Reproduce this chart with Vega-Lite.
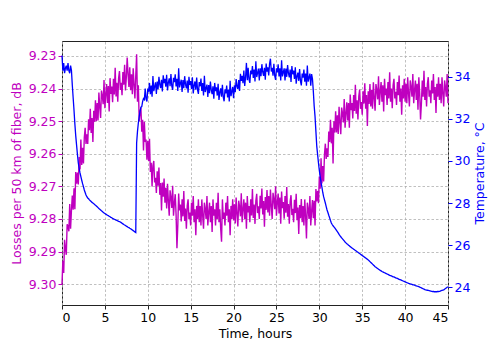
{
"$schema":"https://vega.github.io/schema/vega-lite/v6.json",
"width":386,"height":264,
"autosize":{"type":"none"},
"padding":{"left":62,"top":41,"right":50,"bottom":44},
"background":"white",
"config":{"font":"DejaVu Sans","view":{"stroke":"#222","strokeWidth":1},
"axis":{"labelFontSize":12.5,"titleFontSize":12.5,"titleFontWeight":"normal","tickSize":4,"labelPadding":2,"domain":false,"gridColor":"#b0b0b0","gridDash":[2.5,2],"gridWidth":0.8,"tickColor":"#222","labelColor":"#000","titleColor":"#000"}},
"data":{"values":[
{"t":0,"L":9.3,"T":35.0},{"t":0.1,"L":9.2928,"T":34.28},{"t":0.2,"L":9.2966,"T":34.64},{"t":0.3,"L":9.2864,"T":34.16},{"t":0.4,"L":9.2892,"T":34.4},{"t":0.5,"L":9.291,"T":34.52},{"t":0.6,"L":9.2816,"T":34.28},{"t":0.7,"L":9.2822,"T":34.64},{"t":0.8,"L":9.2838,"T":34.28},{"t":0.9,"L":9.2754,"T":34.16},
{"t":1.0,"L":9.283,"T":34.52},{"t":1.1,"L":9.2774,"T":34.3},{"t":1.2,"L":9.2728,"T":33.6},{"t":1.3,"L":9.2772,"T":33.0},{"t":1.4,"L":9.2706,"T":32.4},{"t":1.5,"L":9.277,"T":31.75},{"t":1.6,"L":9.2656,"T":31.2},{"t":1.7,"L":9.2692,"T":30.75},{"t":1.8,"L":9.2658,"T":30.3},{"t":1.9,"L":9.2694,"T":29.9},
{"t":2.0,"L":9.261,"T":29.65},{"t":2.1,"L":9.2648,"T":29.43},{"t":2.2,"L":9.2556,"T":29.25},{"t":2.3,"L":9.2634,"T":29.08},{"t":2.4,"L":9.2582,"T":28.92},{"t":2.5,"L":9.263,"T":28.78},{"t":2.6,"L":9.255,"T":28.62},{"t":2.7,"L":9.252,"T":28.5},{"t":2.8,"L":9.257,"T":28.38},{"t":2.9,"L":9.254,"T":28.3},
{"t":3.0,"L":9.257,"T":28.24},{"t":3.1,"L":9.2494,"T":28.2},{"t":3.2,"L":9.2528,"T":28.15},{"t":3.3,"L":9.2462,"T":28.11},{"t":3.4,"L":9.2536,"T":28.07},{"t":3.5,"L":9.249,"T":28.03},{"t":3.6,"L":9.2564,"T":28.0},{"t":3.7,"L":9.2468,"T":27.97},{"t":3.8,"L":9.2502,"T":27.93},{"t":3.9,"L":9.2436,"T":27.9},
{"t":4.0,"L":9.25,"T":27.86},{"t":4.1,"L":9.2444,"T":27.82},{"t":4.2,"L":9.2498,"T":27.78},{"t":4.3,"L":9.2412,"T":27.74},{"t":4.4,"L":9.2456,"T":27.7},{"t":4.5,"L":9.249,"T":27.67},{"t":4.6,"L":9.2406,"T":27.63},{"t":4.7,"L":9.2422,"T":27.6},{"t":4.8,"L":9.2448,"T":27.56},{"t":4.9,"L":9.2374,"T":27.53},
{"t":5.0,"L":9.246,"T":27.5},{"t":5.1,"L":9.2418,"T":27.47},{"t":5.2,"L":9.2386,"T":27.45},{"t":5.3,"L":9.2444,"T":27.42},{"t":5.4,"L":9.2392,"T":27.4},{"t":5.5,"L":9.247,"T":27.37},{"t":5.6,"L":9.2368,"T":27.35},{"t":5.7,"L":9.2416,"T":27.32},{"t":5.8,"L":9.2394,"T":27.3},{"t":5.9,"L":9.2442,"T":27.27},
{"t":6.0,"L":9.237,"T":27.25},{"t":6.1,"L":9.2418,"T":27.23},{"t":6.2,"L":9.2336,"T":27.21},{"t":6.3,"L":9.2424,"T":27.19},{"t":6.4,"L":9.2382,"T":27.17},{"t":6.5,"L":9.244,"T":27.15},{"t":6.6,"L":9.2368,"T":27.13},{"t":6.7,"L":9.2346,"T":27.12},{"t":6.8,"L":9.2404,"T":27.1},{"t":6.9,"L":9.2382,"T":27.07},
{"t":7.0,"L":9.242,"T":27.04},{"t":7.1,"L":9.2349,"T":27.01},{"t":7.2,"L":9.2388,"T":26.98},{"t":7.3,"L":9.2327,"T":26.96},{"t":7.4,"L":9.2406,"T":26.93},{"t":7.5,"L":9.2365,"T":26.9},{"t":7.6,"L":9.2305,"T":26.88},{"t":7.7,"L":9.2355,"T":26.85},{"t":7.8,"L":9.2395,"T":26.83},{"t":7.9,"L":9.2335,"T":26.8},
{"t":8.0,"L":9.2405,"T":26.78},{"t":8.1,"L":9.2356,"T":26.75},{"t":8.2,"L":9.2417,"T":26.72},{"t":8.3,"L":9.2338,"T":26.69},{"t":8.4,"L":9.2389,"T":26.66},{"t":8.5,"L":9.243,"T":26.63},{"t":8.6,"L":9.236,"T":26.6},{"t":8.7,"L":9.2295,"T":30.85},{"t":8.8,"L":9.244,"T":31.4},{"t":8.9,"L":9.239,"T":31.8},
{"t":9.0,"L":9.25,"T":32.1},{"t":9.1,"L":9.2474,"T":32.35},{"t":9.2,"L":9.2458,"T":32.55},{"t":9.3,"L":9.2532,"T":32.58},{"t":9.4,"L":9.2496,"T":32.82},{"t":9.5,"L":9.259,"T":32.96},{"t":9.6,"L":9.2502,"T":32.91},{"t":9.7,"L":9.2564,"T":33.43},{"t":9.8,"L":9.2556,"T":32.93},{"t":9.9,"L":9.2618,"T":32.82},
{"t":10.0,"L":9.256,"T":33.43},{"t":10.1,"L":9.2622,"T":33.28},{"t":10.2,"L":9.2554,"T":33.7},{"t":10.3,"L":9.2656,"T":33.17},{"t":10.4,"L":9.2628,"T":33.58},{"t":10.5,"L":9.27,"T":33.05},{"t":10.6,"L":9.2636,"T":34.03},{"t":10.7,"L":9.2622,"T":33.31},{"t":10.8,"L":9.2688,"T":33.52},{"t":10.9,"L":9.2674,"T":33.73},
{"t":11.0,"L":9.272,"T":33.18},{"t":11.1,"L":9.2654,"T":33.77},{"t":11.2,"L":9.2698,"T":33.4},{"t":11.3,"L":9.2642,"T":33.99},{"t":11.4,"L":9.2726,"T":33.63},{"t":11.5,"L":9.269,"T":33.46},{"t":11.6,"L":9.2774,"T":33.85},{"t":11.7,"L":9.2688,"T":33.29},{"t":11.8,"L":9.2732,"T":34.06},{"t":11.9,"L":9.2676,"T":33.69},
{"t":12.0,"L":9.275,"T":33.89},{"t":12.1,"L":9.2704,"T":33.52},{"t":12.2,"L":9.2768,"T":34.09},{"t":12.3,"L":9.2692,"T":33.34},{"t":12.4,"L":9.2746,"T":33.72},{"t":12.5,"L":9.279,"T":33.92},{"t":12.6,"L":9.2712,"T":33.54},{"t":12.7,"L":9.2734,"T":34.12},{"t":12.8,"L":9.2766,"T":33.55},{"t":12.9,"L":9.2698,"T":33.37},
{"t":13.0,"L":9.279,"T":33.94},{"t":13.1,"L":9.2752,"T":33.74},{"t":13.2,"L":9.2724,"T":34.11},{"t":13.3,"L":9.2786,"T":33.53},{"t":13.4,"L":9.289,"T":33.9},{"t":13.5,"L":9.282,"T":33.32},{"t":13.6,"L":9.2722,"T":34.4},{"t":13.7,"L":9.2774,"T":33.49},{"t":13.8,"L":9.2756,"T":33.67},{"t":13.9,"L":9.2808,"T":33.85},
{"t":14.0,"L":9.274,"T":33.27},{"t":14.1,"L":9.2792,"T":33.84},{"t":14.2,"L":9.2714,"T":33.45},{"t":14.3,"L":9.2806,"T":34.02},{"t":14.4,"L":9.2768,"T":33.63},{"t":14.5,"L":9.283,"T":33.44},{"t":14.6,"L":9.276,"T":33.81},{"t":14.7,"L":9.274,"T":33.24},{"t":14.8,"L":9.28,"T":33.99},{"t":14.9,"L":9.278,"T":33.6},
{"t":15.0,"L":9.282,"T":33.79},{"t":15.1,"L":9.275,"T":33.41},{"t":15.2,"L":9.279,"T":33.97},{"t":15.3,"L":9.273,"T":33.2},{"t":15.4,"L":9.281,"T":33.58},{"t":15.5,"L":9.277,"T":33.77},{"t":15.6,"L":9.285,"T":33.38},{"t":15.7,"L":9.276,"T":33.95},{"t":15.8,"L":9.28,"T":33.37},{"t":15.9,"L":9.274,"T":33.18},
{"t":16.0,"L":9.281,"T":33.74},{"t":16.1,"L":9.276,"T":33.54},{"t":16.2,"L":9.282,"T":33.91},{"t":16.3,"L":9.274,"T":33.32},{"t":16.4,"L":9.279,"T":33.69},{"t":16.5,"L":9.283,"T":33.11},{"t":16.6,"L":9.275,"T":34.04},{"t":16.7,"L":9.277,"T":33.27},{"t":16.8,"L":9.28,"T":33.45},{"t":16.9,"L":9.273,"T":33.62},
{"t":17.0,"L":9.282,"T":33.04},{"t":17.1,"L":9.278,"T":33.6},{"t":17.2,"L":9.275,"T":33.21},{"t":17.3,"L":9.281,"T":33.76},{"t":17.4,"L":9.276,"T":33.37},{"t":17.5,"L":9.284,"T":33.17},{"t":17.6,"L":9.274,"T":33.54},{"t":17.7,"L":9.279,"T":32.95},{"t":17.8,"L":9.277,"T":33.7},{"t":17.9,"L":9.282,"T":33.31},
{"t":18.0,"L":9.275,"T":33.49},{"t":18.1,"L":9.28,"T":33.1},{"t":18.2,"L":9.272,"T":33.66},{"t":18.3,"L":9.281,"T":32.89},{"t":18.4,"L":9.277,"T":33.26},{"t":18.5,"L":9.283,"T":33.44},{"t":18.6,"L":9.287,"T":33.05},{"t":18.7,"L":9.274,"T":33.61},{"t":18.8,"L":9.28,"T":33.03},{"t":18.9,"L":9.278,"T":32.83},
{"t":19.0,"L":9.282,"T":33.39},{"t":19.1,"L":9.275,"T":33.2},{"t":19.2,"L":9.279,"T":33.58},{"t":19.3,"L":9.273,"T":33.01},{"t":19.4,"L":9.281,"T":33.39},{"t":19.5,"L":9.277,"T":32.82},{"t":19.6,"L":9.285,"T":33.8},{"t":19.7,"L":9.276,"T":33.07},{"t":19.8,"L":9.28,"T":33.29},{"t":19.9,"L":9.274,"T":33.51},
{"t":20.0,"L":9.2805,"T":32.97},{"t":20.1,"L":9.2755,"T":33.59},{"t":20.2,"L":9.2814,"T":33.26},{"t":20.3,"L":9.2734,"T":33.88},{"t":20.4,"L":9.2784,"T":33.55},{"t":20.5,"L":9.2823,"T":33.41},{"t":20.6,"L":9.2744,"T":33.84},{"t":20.7,"L":9.2763,"T":33.32},{"t":20.8,"L":9.2792,"T":34.13},{"t":20.9,"L":9.2721,"T":33.8},
{"t":21.0,"L":9.281,"T":34.04},{"t":21.1,"L":9.277,"T":33.69},{"t":21.2,"L":9.274,"T":34.29},{"t":21.3,"L":9.28,"T":33.56},{"t":21.4,"L":9.275,"T":33.97},{"t":21.5,"L":9.283,"T":34.65},{"t":21.6,"L":9.273,"T":33.83},{"t":21.7,"L":9.278,"T":34.42},{"t":21.8,"L":9.276,"T":33.87},{"t":21.9,"L":9.281,"T":33.7},
{"t":22.0,"L":9.274,"T":34.29},{"t":22.1,"L":9.2789,"T":34.11},{"t":22.2,"L":9.2708,"T":34.5},{"t":22.3,"L":9.2797,"T":33.94},{"t":22.4,"L":9.2756,"T":34.33},{"t":22.5,"L":9.2815,"T":33.77},{"t":22.6,"L":9.2744,"T":34.73},{"t":22.7,"L":9.2723,"T":33.98},{"t":22.8,"L":9.2782,"T":34.18},{"t":22.9,"L":9.2761,"T":34.38},
{"t":23.0,"L":9.28,"T":33.82},{"t":23.1,"L":9.2729,"T":34.39},{"t":23.2,"L":9.2768,"T":34.02},{"t":23.3,"L":9.2707,"T":34.59},{"t":23.4,"L":9.2786,"T":34.22},{"t":23.5,"L":9.2745,"T":34.03},{"t":23.6,"L":9.2824,"T":34.42},{"t":23.7,"L":9.2733,"T":33.85},{"t":23.8,"L":9.2772,"T":34.62},{"t":23.9,"L":9.2711,"T":34.24},
{"t":24.0,"L":9.278,"T":34.44},{"t":24.1,"L":9.273,"T":34.06},{"t":24.2,"L":9.279,"T":34.62},{"t":24.3,"L":9.271,"T":34.85},{"t":24.4,"L":9.276,"T":34.24},{"t":24.5,"L":9.28,"T":34.42},{"t":24.6,"L":9.272,"T":34.04},{"t":24.7,"L":9.274,"T":34.61},{"t":24.8,"L":9.277,"T":34.03},{"t":24.9,"L":9.27,"T":33.84},
{"t":25.0,"L":9.279,"T":34.39},{"t":25.1,"L":9.2751,"T":34.2},{"t":25.2,"L":9.2722,"T":34.58},{"t":25.3,"L":9.2783,"T":34.01},{"t":25.4,"L":9.2734,"T":34.39},{"t":25.5,"L":9.2815,"T":33.82},{"t":25.6,"L":9.2716,"T":34.77},{"t":25.7,"L":9.2767,"T":34.01},{"t":25.8,"L":9.2748,"T":34.2},{"t":25.9,"L":9.2799,"T":34.39},
{"t":26.0,"L":9.273,"T":33.82},{"t":26.1,"L":9.2781,"T":34.38},{"t":26.2,"L":9.2702,"T":33.99},{"t":26.3,"L":9.2793,"T":34.55},{"t":26.4,"L":9.2754,"T":34.16},{"t":26.5,"L":9.2815,"T":33.96},{"t":26.6,"L":9.2746,"T":34.33},{"t":26.7,"L":9.2727,"T":33.75},{"t":26.8,"L":9.2788,"T":34.5},{"t":26.9,"L":9.2769,"T":34.11},
{"t":27.0,"L":9.281,"T":34.29},{"t":27.1,"L":9.2741,"T":33.89},{"t":27.2,"L":9.2782,"T":34.44},{"t":27.3,"L":9.2723,"T":33.66},{"t":27.4,"L":9.2804,"T":34.02},{"t":27.5,"L":9.2765,"T":34.19},{"t":27.6,"L":9.2846,"T":33.8},{"t":27.7,"L":9.2757,"T":34.36},{"t":27.8,"L":9.2798,"T":33.78},{"t":27.9,"L":9.2739,"T":33.58},
{"t":28.0,"L":9.281,"T":34.14},{"t":28.1,"L":9.276,"T":33.95},{"t":28.2,"L":9.282,"T":34.33},{"t":28.3,"L":9.274,"T":33.76},{"t":28.4,"L":9.279,"T":34.14},{"t":28.5,"L":9.286,"T":33.57},{"t":28.6,"L":9.275,"T":34.52},{"t":28.7,"L":9.277,"T":33.76},{"t":28.8,"L":9.28,"T":33.95},{"t":28.9,"L":9.273,"T":34.14},
{"t":29.0,"L":9.282,"T":33.57},{"t":29.1,"L":9.2776,"T":34.12},{"t":29.2,"L":9.2742,"T":33.9},{"t":29.3,"L":9.2798,"T":33.3},{"t":29.4,"L":9.2744,"T":32.6},{"t":29.5,"L":9.282,"T":32.1},{"t":29.6,"L":9.2708,"T":31.4},{"t":29.7,"L":9.2746,"T":30.7},{"t":29.8,"L":9.2714,"T":30.3},{"t":29.9,"L":9.2752,"T":29.9},
{"t":30.0,"L":9.267,"T":29.55},{"t":30.1,"L":9.2707,"T":29.25},{"t":30.2,"L":9.2614,"T":28.98},{"t":30.3,"L":9.2691,"T":28.75},{"t":30.4,"L":9.2638,"T":28.5},{"t":30.5,"L":9.2685,"T":28.3},{"t":30.6,"L":9.2602,"T":28.15},{"t":30.7,"L":9.2569,"T":28.0},{"t":30.8,"L":9.2616,"T":27.83},{"t":30.9,"L":9.2583,"T":27.67},
{"t":31.0,"L":9.261,"T":27.55},{"t":31.1,"L":9.2532,"T":27.42},{"t":31.2,"L":9.2564,"T":27.3},{"t":31.3,"L":9.2496,"T":27.17},{"t":31.4,"L":9.2568,"T":27.05},{"t":31.5,"L":9.252,"T":26.98},{"t":31.6,"L":9.263,"T":26.92},{"t":31.7,"L":9.25,"T":26.87},{"t":31.8,"L":9.2535,"T":26.82},{"t":31.9,"L":9.247,"T":26.76},
{"t":32.0,"L":9.2535,"T":26.7},{"t":32.1,"L":9.2482,"T":26.64},{"t":32.2,"L":9.2539,"T":26.58},{"t":32.3,"L":9.2456,"T":26.51},{"t":32.4,"L":9.2503,"T":26.45},{"t":32.5,"L":9.254,"T":26.4},{"t":32.6,"L":9.2458,"T":26.35},{"t":32.7,"L":9.2476,"T":26.3},{"t":32.8,"L":9.2504,"T":26.25},{"t":32.9,"L":9.2432,"T":26.2},
{"t":33.0,"L":9.252,"T":26.15},{"t":33.1,"L":9.2476,"T":26.11},{"t":33.2,"L":9.2442,"T":26.07},{"t":33.3,"L":9.2498,"T":26.04},{"t":33.4,"L":9.2444,"T":26.0},{"t":33.5,"L":9.252,"T":25.97},{"t":33.6,"L":9.2418,"T":25.93},{"t":33.7,"L":9.2466,"T":25.9},{"t":33.8,"L":9.2444,"T":25.87},{"t":33.9,"L":9.2492,"T":25.84},
{"t":34.0,"L":9.242,"T":25.81},{"t":34.1,"L":9.2469,"T":25.78},{"t":34.2,"L":9.2388,"T":25.75},{"t":34.3,"L":9.2477,"T":25.72},{"t":34.4,"L":9.2436,"T":25.69},{"t":34.5,"L":9.2495,"T":25.66},{"t":34.6,"L":9.2424,"T":25.63},{"t":34.7,"L":9.2403,"T":25.6},{"t":34.8,"L":9.2462,"T":25.57},{"t":34.9,"L":9.2441,"T":25.54},
{"t":35.0,"L":9.248,"T":25.51},{"t":35.1,"L":9.2408,"T":25.48},{"t":35.2,"L":9.2446,"T":25.45},{"t":35.3,"L":9.2384,"T":25.42},{"t":35.4,"L":9.2462,"T":25.39},{"t":35.5,"L":9.242,"T":25.36},{"t":35.6,"L":9.2515,"T":25.33},{"t":35.7,"L":9.2408,"T":25.3},{"t":35.8,"L":9.2447,"T":25.26},{"t":35.9,"L":9.2386,"T":25.22},
{"t":36.0,"L":9.2455,"T":25.18},{"t":36.1,"L":9.2404,"T":25.14},{"t":36.2,"L":9.2462,"T":25.1},{"t":36.3,"L":9.2381,"T":25.06},{"t":36.4,"L":9.2429,"T":25.02},{"t":36.5,"L":9.2468,"T":24.98},{"t":36.6,"L":9.2386,"T":24.95},{"t":36.7,"L":9.2405,"T":24.92},{"t":36.8,"L":9.2433,"T":24.89},{"t":36.9,"L":9.2362,"T":24.86},
{"t":37.0,"L":9.245,"T":24.83},{"t":37.1,"L":9.241,"T":24.8},{"t":37.2,"L":9.238,"T":24.78},{"t":37.3,"L":9.244,"T":24.75},{"t":37.4,"L":9.239,"T":24.73},{"t":37.5,"L":9.247,"T":24.71},{"t":37.6,"L":9.237,"T":24.69},{"t":37.7,"L":9.242,"T":24.67},{"t":37.8,"L":9.24,"T":24.65},{"t":37.9,"L":9.245,"T":24.63},
{"t":38.0,"L":9.238,"T":24.61},{"t":38.1,"L":9.243,"T":24.59},{"t":38.2,"L":9.235,"T":24.57},{"t":38.3,"L":9.244,"T":24.55},{"t":38.4,"L":9.24,"T":24.54},{"t":38.5,"L":9.246,"T":24.52},{"t":38.6,"L":9.239,"T":24.5},{"t":38.7,"L":9.237,"T":24.49},{"t":38.8,"L":9.243,"T":24.47},{"t":38.9,"L":9.241,"T":24.45},
{"t":39.0,"L":9.245,"T":24.43},{"t":39.1,"L":9.238,"T":24.42},{"t":39.2,"L":9.242,"T":24.4},{"t":39.3,"L":9.236,"T":24.38},{"t":39.4,"L":9.244,"T":24.36},{"t":39.5,"L":9.24,"T":24.35},{"t":39.6,"L":9.248,"T":24.33},{"t":39.7,"L":9.239,"T":24.31},{"t":39.8,"L":9.243,"T":24.29},{"t":39.9,"L":9.237,"T":24.28},
{"t":40.0,"L":9.244,"T":24.26},{"t":40.1,"L":9.2385,"T":24.24},{"t":40.2,"L":9.2445,"T":24.22},{"t":40.3,"L":9.2365,"T":24.21},{"t":40.4,"L":9.2415,"T":24.19},{"t":40.5,"L":9.2455,"T":24.18},{"t":40.6,"L":9.2375,"T":24.16},{"t":40.7,"L":9.2395,"T":24.15},{"t":40.8,"L":9.2425,"T":24.14},{"t":40.9,"L":9.2355,"T":24.12},
{"t":41.0,"L":9.2445,"T":24.11},{"t":41.1,"L":9.2405,"T":24.1},{"t":41.2,"L":9.2375,"T":24.08},{"t":41.3,"L":9.2435,"T":24.07},{"t":41.4,"L":9.2385,"T":24.06},{"t":41.5,"L":9.2465,"T":24.04},{"t":41.6,"L":9.2365,"T":24.03},{"t":41.7,"L":9.2415,"T":24.01},{"t":41.8,"L":9.2495,"T":23.99},{"t":41.9,"L":9.2445,"T":23.97},
{"t":42.0,"L":9.2375,"T":23.95},{"t":42.1,"L":9.2425,"T":23.93},{"t":42.2,"L":9.2345,"T":23.91},{"t":42.3,"L":9.2435,"T":23.89},{"t":42.4,"L":9.2395,"T":23.88},{"t":42.5,"L":9.2455,"T":23.87},{"t":42.6,"L":9.2385,"T":23.86},{"t":42.7,"L":9.2365,"T":23.85},{"t":42.8,"L":9.2425,"T":23.84},{"t":42.9,"L":9.2405,"T":23.83},
{"t":43.0,"L":9.2445,"T":23.82},{"t":43.1,"L":9.2375,"T":23.81},{"t":43.2,"L":9.2415,"T":23.8},{"t":43.3,"L":9.2355,"T":23.8},{"t":43.4,"L":9.2435,"T":23.79},{"t":43.5,"L":9.2395,"T":23.79},{"t":43.6,"L":9.2475,"T":23.79},{"t":43.7,"L":9.2385,"T":23.79},{"t":43.8,"L":9.2425,"T":23.8},{"t":43.9,"L":9.2365,"T":23.8},
{"t":44.0,"L":9.2435,"T":23.81},{"t":44.1,"L":9.2385,"T":23.82},{"t":44.2,"L":9.2445,"T":23.84},{"t":44.3,"L":9.2365,"T":23.85},{"t":44.4,"L":9.2415,"T":23.86},{"t":44.5,"L":9.2455,"T":23.88},{"t":44.6,"L":9.2375,"T":23.91},{"t":44.7,"L":9.2395,"T":23.94},{"t":44.8,"L":9.2425,"T":23.97},{"t":44.9,"L":9.2355,"T":24.0},
{"t":45.0,"L":9.2445,"T":24.03}
]},
"encoding":{"x":{"field":"t","type":"quantitative","scale":{"domain":[0,45],"nice":false,"zero":false},
"axis":{"values":[0,5,10,15,20,25,30,35,40,45],"title":"Time, hours","grid":true,"titlePadding":4}}},
"layer":[
{"mark":{"type":"line","color":"#bf00bf","strokeWidth":1.4},
"encoding":{"y":{"field":"L","type":"quantitative","scale":{"domain":[9.2254,9.3064],"reverse":true,"nice":false,"zero":false},
"axis":{"orient":"left","values":[9.23,9.24,9.25,9.26,9.27,9.28,9.29,9.30],"format":".2f","title":"Losses per 50 km of fiber, dB","grid":true,"labelColor":"#bf00bf","titleColor":"#bf00bf","tickColor":"#bf00bf","titlePadding":5}}}},
{"mark":{"type":"line","color":"#0000ff","strokeWidth":1.3},
"encoding":{"y":{"field":"T","type":"quantitative","scale":{"domain":[23.16,35.69],"nice":false,"zero":false},
"axis":{"orient":"right","values":[24,26,28,30,32,34],"format":"d","title":"Temperature, °C","grid":false,"labelColor":"#0000ff","titleColor":"#0000ff","tickColor":"#0000ff","titleAngle":270,"titleBaseline":"top","titlePadding":4}}}}
],
"resolve":{"scale":{"y":"independent"}}
}
